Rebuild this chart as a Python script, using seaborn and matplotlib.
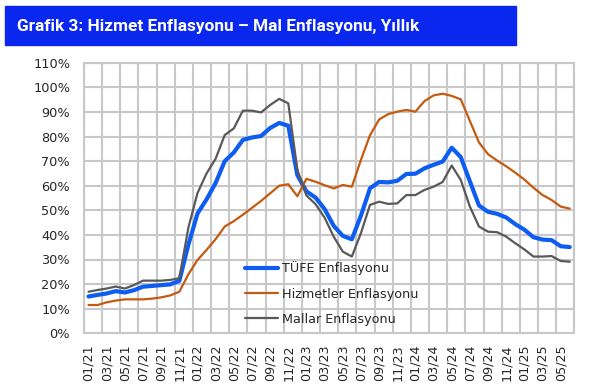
import pandas as pd
import matplotlib.pyplot as plt
import matplotlib.patches as patches
import seaborn as sns
import numpy as np

# Monthly periods 01/21 - 06/25
months = [f"{m:02d}/{y}" for y in range(21, 26) for m in range(1, 13)][:54]

# Annual inflation, %
tufe = [14.97, 15.61, 16.19, 17.14, 16.59, 17.53, 18.95, 19.25, 19.58, 19.89, 21.31, 36.08,
        48.69, 54.44, 61.14, 69.97, 73.50, 78.62, 79.60, 80.21, 83.45, 85.51, 84.39, 64.27,
        57.68, 55.18, 50.51, 43.68, 39.59, 38.21, 47.83, 58.94, 61.53, 61.36, 61.98, 64.77,
        64.86, 67.07, 68.50, 69.80, 75.45, 71.60, 61.78, 51.97, 49.38, 48.58, 47.09, 44.38,
        42.12, 39.05, 38.10, 37.86, 35.41, 35.05]

hizmetler = [11.5, 11.5, 12.6, 13.3, 13.8, 13.8, 13.8, 14.1, 14.6, 15.4, 16.9, 24.0,
             29.8, 33.9, 38.3, 43.4, 45.6, 48.2, 51.0, 53.8, 56.9, 60.0, 60.6, 55.7,
             62.8, 61.6, 60.2, 58.9, 60.3, 59.6, 70.5, 80.5, 86.9, 89.1, 90.1, 90.8,
             90.1, 94.4, 96.7, 97.4, 96.5, 95.1, 86.3, 77.6, 72.8, 70.2, 67.9, 65.3,
             62.5, 59.2, 56.2, 54.2, 51.5, 50.7]

mallar = [16.9, 17.6, 18.2, 19.0, 18.2, 19.6, 21.4, 21.4, 21.4, 21.7, 22.4, 43.0,
          57.0, 65.0, 71.0, 80.6, 83.3, 90.5, 90.5, 89.8, 92.8, 95.3, 93.5, 66.4,
          56.0, 52.5, 47.0, 39.3, 33.2, 31.2, 40.7, 52.2, 53.5, 52.6, 52.8, 56.2,
          56.2, 58.3, 59.6, 61.5, 68.2, 62.3, 51.5, 43.4, 41.3, 41.1, 39.3, 36.6,
          34.1, 31.2, 31.2, 31.4, 29.4, 29.1]

series_names = ["TÜFE Enflasyonu", "Hizmetler Enflasyonu", "Mallar Enflasyonu"]
series_colors = ["#0d5df2", "#c55a11", "#595959"]
series_widths = [3.0, 1.6, 1.6]

df = pd.DataFrame({"x": np.arange(len(months)), "TÜFE Enflasyonu": tufe,
                   "Hizmetler Enflasyonu": hizmetler, "Mallar Enflasyonu": mallar})

grid_col = "#c8c8c8"
sns.set_theme(style="whitegrid", rc={"grid.color": grid_col, "grid.linewidth": 1.5,
                                     "axes.edgecolor": grid_col, "axes.linewidth": 1.5})
plt.rcParams['font.family'] = ['DejaVu Sans']

fig = plt.figure(figsize=(5.98, 3.91), dpi=100)
ax = fig.add_axes([84 / 598, 1 - 333.3 / 391, (574.3 - 84) / 598, (333.3 - 62.7) / 391])

for name, col, lw in zip(series_names, series_colors, series_widths):
    sns.lineplot(data=df, x="x", y=name, ax=ax, color=col, linewidth=lw, label=name, zorder=3)

ax.set_xlim(-0.5, len(months) - 0.5)
ax.set_ylim(0, 110)
ax.set_yticks(np.arange(0, 111, 10))
ax.set_yticklabels([f"{v}%" for v in range(0, 111, 10)], fontsize=9.3, color="#262626")
ax.set_xticks(np.arange(0, len(months), 2))
ax.set_xticklabels(months[::2], rotation=90, fontsize=9.2, color="#262626")
ax.set_xticks(np.arange(-0.5, len(months), 2), minor=True)
ax.tick_params(axis="y", which="both", length=0, pad=10)
ax.tick_params(axis="x", which="both", length=0, pad=8)
ax.xaxis.grid(False, which="major")
ax.xaxis.grid(True, which="minor", color=grid_col, linewidth=1.5)
ax.yaxis.grid(True, which="major", color=grid_col, linewidth=1.5)
ax.set_xlabel("")
ax.set_ylabel("")

ax.legend(loc="upper left", bbox_to_anchor=(0.305, 0.308), frameon=False, fontsize=9.2,
          handlelength=2.6, labelspacing=0.95, handletextpad=0.3, labelcolor="#262626")

# Title bar
fig.patches.append(patches.Rectangle((5 / 598, 1 - 45 / 391), 511 / 598, 39 / 391,
                                     transform=fig.transFigure, color="#0a27ef", zorder=0))
fig.text(17 / 598, 1 - 26 / 391, "Grafik 3: Hizmet Enflasyonu – Mal Enflasyonu, Yıllık",
         color="white", fontsize=12.4, fontweight="bold", va="center", ha="left",
         family=["Liberation Sans Narrow", "Roboto", "DejaVu Sans"])

plt.savefig("out.png", dpi=100)
